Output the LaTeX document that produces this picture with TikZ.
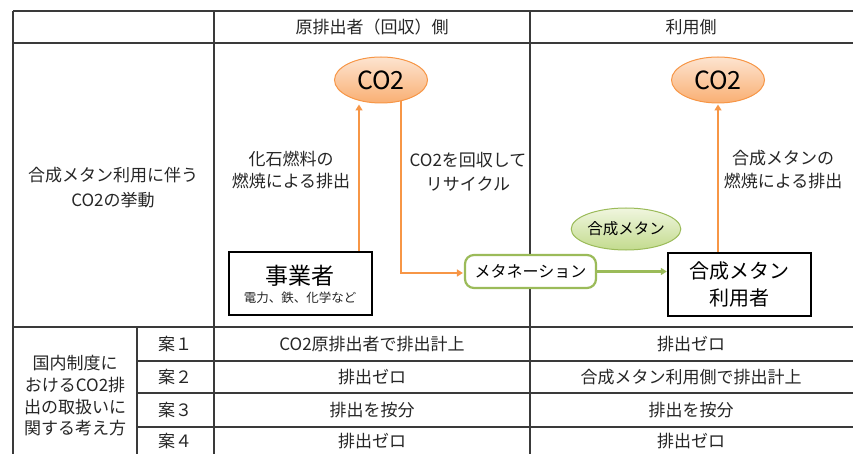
\documentclass[tikz,border=0pt]{standalone}
\usepackage{fontspec}
\setmainfont{Noto Sans CJK JP}
\usetikzlibrary{arrows.meta,shapes.geometric,calc}
\definecolor{orng}{HTML}{F79646}
\definecolor{orngtop}{HTML}{FDE4D0}
\definecolor{orngbot}{HTML}{F9AF73}
\definecolor{grn}{HTML}{9BBB59}
\definecolor{grntop}{HTML}{F0F6DF}
\definecolor{grnbot}{HTML}{C3DB8E}
\definecolor{gridc}{HTML}{3A3A3A}
\definecolor{txt}{HTML}{262626}
\newcommand\myfs[2]{\fontsize{#1pt}{#2pt}\selectfont}
\tikzset{
  gridline/.style={draw=gridc, line width=1.3pt},
  txtnode/.style={inner sep=0pt, text=txt, align=center, font=\myfs{17}{22}},
  co2node/.style={ellipse, draw=orng, line width=1pt, top color=orngtop, bottom color=orngbot,
    minimum width=93pt, minimum height=46pt, inner sep=0pt, font=\myfs{25}{25}, text=black},
  actor/.style={rectangle, draw=black, line width=2.4pt, fill=white, minimum width=143pt,
    minimum height=63pt, inner sep=0pt},
  procbox/.style={rectangle, rounded corners=9pt, draw=grn, line width=2.2pt, fill=white,
    minimum width=131pt, minimum height=33pt, inner sep=0pt, font=\myfs{16}{16}, text=black},
  gmnode/.style={ellipse, draw=grn, line width=1pt, top color=grntop, bottom color=grnbot,
    minimum width=102pt, minimum height=42pt, inner sep=0pt, font=\myfs{15.5}{15.5}, text=black},
  oarrow/.style={draw=orng, line width=2.8pt, -{Triangle[length=6pt,width=7pt]}},
  garrow/.style={draw=grn, line width=2.8pt, -{Triangle[length=6pt,width=7pt]}},
}
\begin{document}
\begin{tikzpicture}[x=1pt,y=-1pt]
\useasboundingbox (0,0) rectangle (853,454);
\fill[white] (0,0) rectangle (853,454);
% table grid
\draw[gridline] (13,11) -- (853,11);
\draw[gridline] (13,43) -- (853,43);
\draw[gridline] (13,327) -- (853,327);
\draw[gridline] (137,361) -- (853,361);
\draw[gridline] (137,393) -- (853,393);
\draw[gridline] (137,427) -- (853,427);
\draw[gridline] (13,11) -- (13,454);
\draw[gridline] (214,11) -- (214,454);
\draw[gridline] (530,11) -- (530,454);
\draw[gridline] (137,327) -- (137,454);
% headers
\node[txtnode] (h1) at (372,27) {原排出者（回収）側};
\node[txtnode] (h2) at (691,27) {利用側};
\node[txtnode, font=\myfs{17}{25}] (rowlab) at (113,188) {合成メタン利用に伴う\\CO2の挙動};
% diagram nodes
\node[co2node] (co2a) at (381,80) {CO2};
\node[co2node] (co2b) at (718,80) {CO2};
\node[actor] (jig) at (300.5,283.5) {};
\node[inner sep=0pt, font=\myfs{23}{23}, text=black] (jigt) at (300,276) {事業者};
\node[inner sep=0pt, font=\myfs{12.5}{12.5}, text=txt] (jigs) at (300,298) {電力、鉄、化学など};
\node[procbox] (meta) at (530.5,271.5) {メタネーション};
\node[gmnode] (gm) at (626,229) {合成メタン};
\node[actor, align=center, font=\myfs{20}{27}, text=black] (user) at (739.5,284.5) {合成メタン\\利用者};
% labels
\node[txtnode, font=\myfs{17}{22}] (lab1) at (291,170) {化石燃料の\\燃焼による排出};
\node[txtnode, font=\myfs{17}{24}] (lab2) at (468,172) {CO2を回収して\\リサイクル};
\node[txtnode, font=\myfs{17}{23}] (lab3) at (783,170) {合成メタンの\\燃焼による排出};
% arrows
\coordinate (xa) at (359,0);
\coordinate (xb) at (401,0);
\draw[oarrow] (jig.north -| xa) -- ($(co2a.south -| xa)+(0,1)$);
\draw[draw=orng, line width=2.8pt] ($(co2a.south -| xb)+(0,-2.5)$) |- ($(meta.west)+(-8,1.5)$);
\draw[oarrow] ($(meta.west)+(-9.4,1.5)$) -- ($(meta.west)+(-1,1.5)$);
\draw[garrow] (meta.east) -- (meta.east -| user.west);
\draw[oarrow] (user.north -| co2b.south) -- ($(co2b.south)+(0,1)$);
% lower table
\node[txtnode, font=\myfs{17}{21.7}] (policy) at (75,396) {国内制度に\\おけるCO2排\\出の取扱いに\\関する考え方};
\node[txtnode] (p1) at (175,344) {案１};
\node[txtnode] (p2) at (175,377) {案２};
\node[txtnode] (p3) at (175,410) {案３};
\node[txtnode] (p4) at (175,441) {案４};
\node[txtnode] (c11) at (372,344) {CO2原排出者で排出計上};
\node[txtnode] (c12) at (691,344) {排出ゼロ};
\node[txtnode] (c21) at (372,377) {排出ゼロ};
\node[txtnode] (c22) at (691,377) {合成メタン利用側で排出計上};
\node[txtnode] (c31) at (372,410) {排出を按分};
\node[txtnode] (c32) at (691,410) {排出を按分};
\node[txtnode] (c41) at (372,441) {排出ゼロ};
\node[txtnode] (c42) at (691,441) {排出ゼロ};
\end{tikzpicture}
\end{document}
